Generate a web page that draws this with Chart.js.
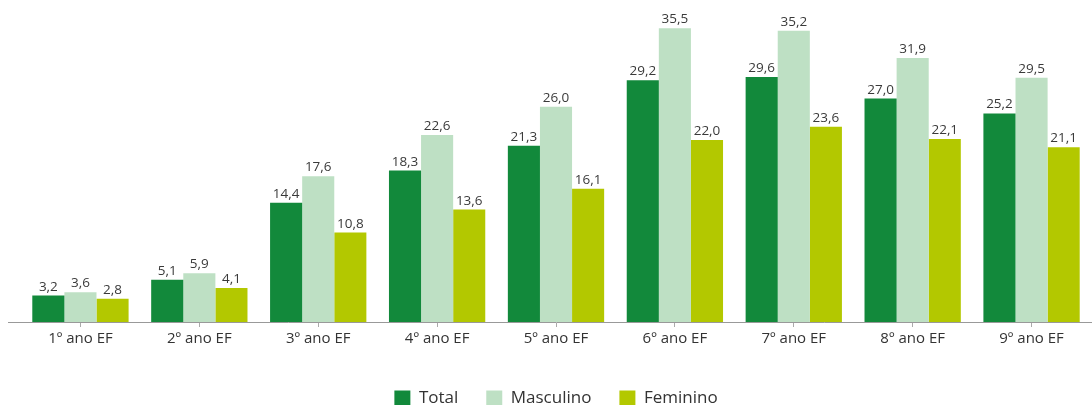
<!DOCTYPE html>
<html>
<head>
<meta charset="utf-8">
<script src="https://cdn.jsdelivr.net/npm/chart.js@4/dist/chart.umd.min.js"></script>
<style>
  html, body { margin: 0; padding: 0; background: #fff; }
  #wrap { width: 1092px; height: 405px; }
</style>
</head>
<body>
<div id="wrap"><canvas id="myBarChart"></canvas></div>
<script>
"use strict";

const categories = ['1º ano EF', '2º ano EF', '3º ano EF', '4º ano EF', '5º ano EF',
    '6º ano EF', '7º ano EF', '8º ano EF', '9º ano EF'];
const totalValues = [3.2, 5.1, 14.4, 18.3, 21.3, 29.2, 29.6, 27.0, 25.2];
const masculinoValues = [3.6, 5.9, 17.6, 22.6, 26.0, 35.5, 35.2, 31.9, 29.5];
const femininoValues = [2.8, 4.1, 10.8, 13.6, 16.1, 22.0, 23.6, 22.1, 21.1];

// draws the value above each bar, with a comma as decimal mark
const valueLabels = {
    id: 'valueLabels',
    afterDatasetsDraw(chart) {
        const ctx = chart.ctx;
        ctx.save();
        ctx.font = '13.5px "Open Sans", sans-serif';
        ctx.fillStyle = '#3a3a3a';
        ctx.textAlign = 'center';
        ctx.textBaseline = 'bottom';
        chart.data.datasets.forEach((ds, i) => {
            chart.getDatasetMeta(i).data.forEach((bar, j) => {
                const txt = ds.data[j].toFixed(1).replace('.', ',');
                ctx.fillText(txt, bar.x, bar.y - 2);
            });
        });
        ctx.restore();
    }
};

// the axis line runs a bit past the first category on the left
const axisExtend = {
    id: 'axisExtend',
    afterDraw(chart) {
        const ctx = chart.ctx;
        const y = chart.scales.x.top + 0.5;
        ctx.save();
        ctx.strokeStyle = '#999999';
        ctx.lineWidth = 1;
        ctx.beginPath();
        ctx.moveTo(8, y);
        ctx.lineTo(chart.chartArea.left, y);
        ctx.stroke();
        ctx.restore();
    }
};

renderChart();

function renderChart() {
    const ctx = document.getElementById('myBarChart');
    new Chart(ctx, {
        type: 'bar',
        data: {
            labels: categories,
            datasets: [
                { label: 'Total', data: totalValues, backgroundColor: '#12893b' },
                { label: 'Masculino', data: masculinoValues, backgroundColor: '#bee0c4' },
                { label: 'Feminino', data: femininoValues, backgroundColor: '#b3c800' }
            ]
        },
        options: {
            responsive: true,
            maintainAspectRatio: false,
            animation: false,
            datasets: { bar: { categoryPercentage: 0.81, barPercentage: 1.0 } },
            layout: { padding: { left: 21, right: 1, top: 0, bottom: -12 } },
            scales: {
                x: {
                    grid: { display: true, drawOnChartArea: false, offset: false,
                        color: '#aaaaaa', tickLength: 5 },
                    border: { display: true, color: '#999999', width: 1 },
                    ticks: { color: '#333333', font: { size: 15, family: '"Open Sans", sans-serif' },
                        padding: 3, maxRotation: 0 },
                    afterFit: (scale) => { scale.height += 11; }
                },
                y: {
                    display: false,
                    min: 0,
                    max: 38.9
                }
            },
            plugins: {
                legend: {
                    position: 'bottom',
                    labels: {
                        color: '#333333',
                        font: { size: 17, family: '"Open Sans", sans-serif' },
                        boxWidth: 16,
                        boxHeight: 16,
                        padding: 28
                    }
                },
                tooltip: { enabled: false }
            }
        },
        plugins: [valueLabels, axisExtend]
    });
}
</script>
</body>
</html>
